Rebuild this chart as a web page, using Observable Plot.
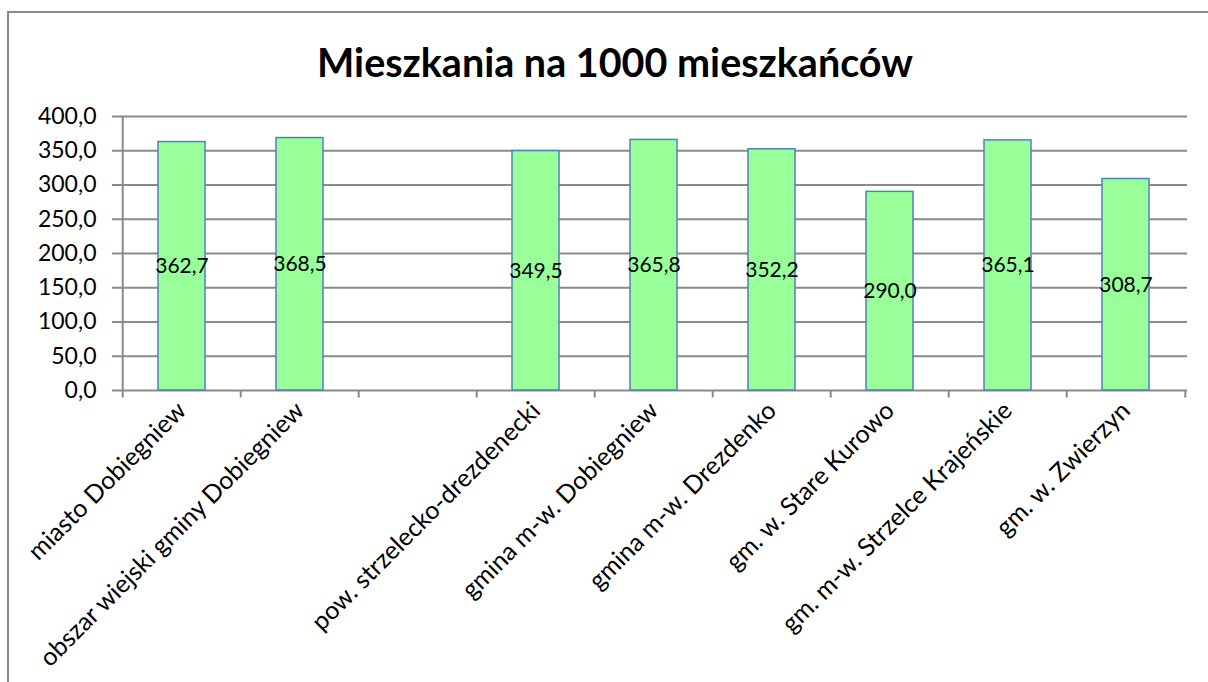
<!DOCTYPE html>
<html><head><meta charset="utf-8">
<script src="https://cdn.jsdelivr.net/npm/d3@7"></script>
<script src="https://cdn.jsdelivr.net/npm/@observablehq/plot@0.6"></script>
<style>
html,body{margin:0;padding:0;background:#fff;overflow:hidden;}
#frame{position:absolute;left:7px;top:11px;width:1210px;height:690px;border:2px solid #8a8a8a;box-sizing:border-box;background:#fff;font-family:Lato,"Open Sans",sans-serif;}
#title{position:absolute;left:0;width:1212px;top:25px;text-align:center;font-weight:bold;font-size:39.5px;line-height:48px;color:#000;}
#chart{position:absolute;left:0;top:83px;}
</style></head><body>
<div id="frame"><div id="title">Mieszkania na 1000 mieszkańców</div><div id="chart"></div></div>
<script>
const categories = ["miasto Dobiegniew","obszar wiejski gminy Dobiegniew"," ","pow. strzelecko-drezdenecki","gmina m-w. Dobiegniew","gmina m-w. Drezdenko","gm. w. Stare Kurowo","gm. m-w. Strzelce Krajeńskie","gm. w. Zwierzyn"];
const values = [362.7, 368.5, null, 349.5, 365.8, 352.2, 290.0, 365.1, 308.7];
const yTicks = [0,50,100,150,200,250,300,350,400];

const data = categories.map((c,i)=>({cat:c, value:values[i]}));
const bars = data.filter(d=>d.value!=null);
const fmt = v => v.toFixed(1).replace(".", ",");

const W = 1196, ml = 111, mr = 18, mt = 20, mb = 294, H = 588;
const step = (W - ml - mr) / categories.length;

const plot = Plot.plot({
  width: W, height: H,
  marginLeft: ml, marginRight: mr, marginTop: mt, marginBottom: mb,
  style: {fontFamily: "Lato, 'Open Sans', sans-serif", background: "transparent", overflow: "visible"},
  x: {domain: categories, paddingInner: 0.6, paddingOuter: 0.3, label: null},
  y: {domain: [0,400], label: null},
  marks: [
    Plot.ruleY(yTicks, {stroke: "#8a8a8a", strokeWidth: 2, strokeOpacity: 1}),
    Plot.barY(bars, {x: "cat", y: "value", fill: "#99ff99", stroke: "#4f81bd", strokeWidth: 1.5}),
    Plot.text(bars, {x: "cat", y: d => d.value/2, text: d => fmt(d.value), fontSize: 21, fill: "#000"}),
    Plot.ruleX(categories, {x: d => d, dx: -step/2, y1: 0, y2: -11, stroke: "#8a8a8a", strokeWidth: 2}),
    Plot.ruleX([categories[categories.length-1]], {x: d => d, dx: step/2, y1: 0, y2: -11, stroke: "#8a8a8a", strokeWidth: 2}),
    Plot.axisY({ticks: yTicks, tickFormat: fmt, tickSize: 8, tickPadding: 16, fontSize: 23, stroke: "#8a8a8a", strokeWidth: 2, color: "#000"}),
    Plot.ruleX([0], {x: () => categories[0], dx: -step/2, y1: 0, y2: 400, stroke: "#8a8a8a", strokeWidth: 2}),
    Plot.axisX({tickSize: 0, tickRotate: -45, tickPadding: 16, fontSize: 25, textAnchor: "end", color: "#000"})
  ]
});
document.getElementById("chart").appendChild(plot);
</script>
</body></html>
